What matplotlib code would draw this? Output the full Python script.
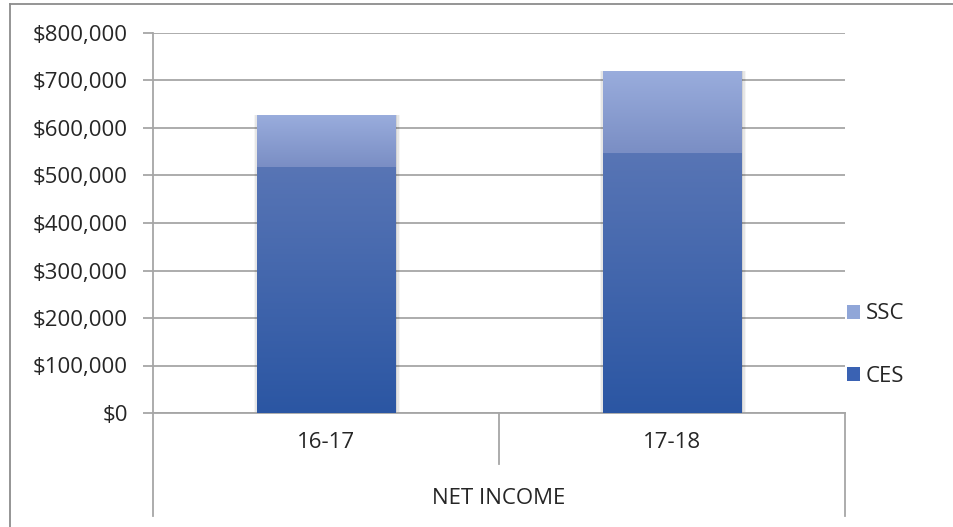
import numpy as np
import matplotlib
matplotlib.use('Agg')
import matplotlib.pyplot as plt
from matplotlib.colors import LinearSegmentedColormap
from matplotlib.lines import Line2D
from matplotlib.patches import Patch
from matplotlib.ticker import FuncFormatter

plt.rcParams['font.family'] = ['Open Sans', 'DejaVu Sans']

categories = ['16-17', '17-18']
ces = [518000, 547000]
ssc = [110000, 173000]
group_label = 'NET INCOME'

ces_colors = ('#2b56a3', '#5875b5')
ssc_colors = ('#7a8ec4', '#9aaddd')
grid_color = '#a6a6a6'
text_color = '#262626'
fsize = 16


def gradient_fill(ax, rects, c_bottom, c_top):
    """ paint each bar with a vertical gradient """
    cmap = LinearSegmentedColormap.from_list('g', [c_bottom, c_top])
    grad = np.linspace(0, 1, 256).reshape(-1, 1)
    for r in rects:
        x, y = r.get_xy()
        w, h = r.get_width(), r.get_height()
        im = ax.imshow(grad, extent=[x, x + w, y, y + h], origin='lower',
                       cmap=cmap, aspect='auto', zorder=3)
        im.set_clip_path(r)
        r.set_facecolor('none')


fig = plt.figure(figsize=(9.54, 5.27), dpi=100)
ax = fig.add_axes([153 / 954, 1 - 413 / 527, 692 / 954, 380 / 527])

x = np.arange(len(categories))
width = 0.4

# soft shadow behind the bars
totals = [a + b for a, b in zip(ces, ssc)]
for grow, alpha in [(0.024, 0.04), (0.014, 0.06), (0.006, 0.08)]:
    ax.bar(x + 0.003, totals, width + grow, color='#000000', alpha=alpha,
           zorder=2, linewidth=0)

b1 = ax.bar(x, ces, width, zorder=3, linewidth=0)
b2 = ax.bar(x, ssc, width, bottom=ces, zorder=3, linewidth=0)
gradient_fill(ax, b1, *ces_colors)
gradient_fill(ax, b2, *ssc_colors)

ax.set_xlim(-0.5, len(categories) - 0.5)
ax.set_ylim(0, 800000)
ax.set_yticks(np.arange(0, 800001, 100000))
ax.yaxis.set_major_formatter(FuncFormatter(lambda v, p: '${:,.0f}'.format(v)))
ax.set_xticks(x)
ax.set_xticklabels(categories)

ax.grid(axis='y', color=grid_color, linewidth=1.3, zorder=0)
ax.set_axisbelow(True)
for s in ax.spines.values():
    s.set_visible(False)
ax.tick_params(axis='y', length=7, width=1.3, color=grid_color, pad=11,
               labelsize=fsize, labelcolor=text_color)
ax.tick_params(axis='x', length=0, pad=14, labelsize=fsize, labelcolor=text_color)

# multi-level category axis lines
line_kw = dict(transform=ax.transAxes, clip_on=False, color=grid_color, linewidth=1.3)
ax.plot([0, 0], [1, -0.271], **line_kw)
ax.plot([1, 1], [0, -0.271], **line_kw)
ax.plot([0.5, 0.5], [0, -0.134], **line_kw)
ax.plot([0, 1], [0, 0], **line_kw)
ax.text(0.5, -0.224, group_label, transform=ax.transAxes, ha='center', va='center',
        fontsize=fsize, color=text_color)

# outer chart frame
fig.add_artist(Line2D([10 / 954, 10 / 954], [0, 1 - 4 / 527], color='#8c8c8c', linewidth=1.3))
fig.add_artist(Line2D([10 / 954, 1], [1 - 4 / 527, 1 - 4 / 527], color='#8c8c8c', linewidth=1.3))

handles = [Patch(facecolor='#90a6d8', label='SSC'), Patch(facecolor='#3a62b3', label='CES')]
fig.legend(handles=handles, loc='center left', bbox_to_anchor=(827 / 954, 1 - 345 / 527),
           frameon=False, fontsize=fsize, labelspacing=1.85, handlelength=0.6,
           handleheight=0.6, handletextpad=0.25, labelcolor=text_color)

plt.savefig('out.png', dpi=100)
